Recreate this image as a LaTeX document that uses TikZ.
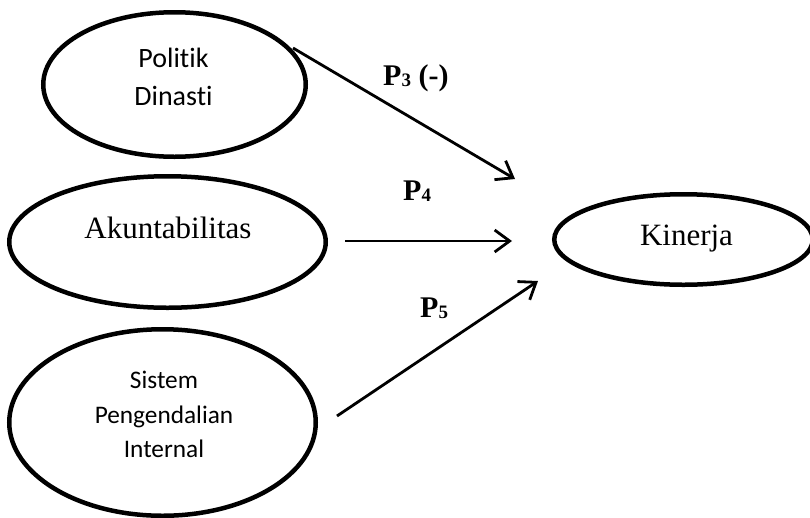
\documentclass[tikz,border=0pt]{standalone}
\usepackage{fontspec}
\setmainfont{Liberation Serif}
\newfontfamily\calibrifont[Ligatures=NoCommon,RawFeature={-liga;-clig;-dlig}]{Carlito}
\usetikzlibrary{arrows.meta,shapes.geometric}
\newcommand\lowsub[1]{\raisebox{-1.5pt}{\fontsize{19}{19}\selectfont #1}}
\begin{document}
\begin{tikzpicture}[x=1pt,y=-1pt,
  ell/.style={draw, ellipse, line width=4.5pt, inner sep=0pt},
  conn/.style={line width=2.8pt, -{Straight Barb[length=15pt,width=22pt]}},
  caltext/.style={font=\calibrifont\fontsize{28}{34}\selectfont, inner sep=0pt, anchor=base},
  calsmall/.style={font=\calibrifont\fontsize{25.3}{30}\selectfont, inner sep=0pt, anchor=base},
  sertext/.style={font=\fontsize{31}{36}\selectfont, inner sep=0pt, anchor=base},
  plab/.style={font=\bfseries\fontsize{30}{34}\selectfont, inner sep=0pt, anchor=base west}
]
\useasboundingbox (0,0) rectangle (810,517);

% ellipses
\node[ell, minimum width=262.5pt, minimum height=144.5pt] (pd) at (174.5,84.5) {};
\node[ell, minimum width=316.5pt, minimum height=131.5pt] (ak) at (167.5,242) {};
\node[ell, minimum width=306.5pt, minimum height=186.5pt] (spi) at (162.5,422.5) {};
\node[ell, minimum width=258.5pt, minimum height=90.5pt] (kin) at (683.5,239.5) {};

% texts
\node[caltext] (pd1) at (173.5,67) {Politik};
\node[caltext] (pd2) at (173.5,105) {Dinasti};
\node[sertext] (akt) at (168,238) {Akuntabilitas};
\node[calsmall] (spi1) at (164,388.5) {Sistem};
\node[calsmall] (spi2) at (164,423) {Pengendalian};
\node[calsmall] (spi3) at (164,457.5) {Internal};
\node[sertext] (kint) at (686.5,245) {Kinerja};

% connectors
\coordinate (a1s) at (293,48);
\coordinate (a1e) at (515,179);
\coordinate (a2s) at (345,241);
\coordinate (a2e) at (512,241);
\coordinate (a3s) at (337,416);
\coordinate (a3e) at (538,281);
\draw[conn] (a1s) -- (a1e);
\draw[conn] (a2s) -- (a2e);
\draw[conn] (a3s) -- (a3e);

% labels
\node[plab] (p3) at (383,85) {P\lowsub{3} (-)};
\node[plab] (p4) at (403,200) {P\lowsub{4}};
\node[plab] (p5) at (420,317) {P\lowsub{5}};
\end{tikzpicture}
\end{document}
